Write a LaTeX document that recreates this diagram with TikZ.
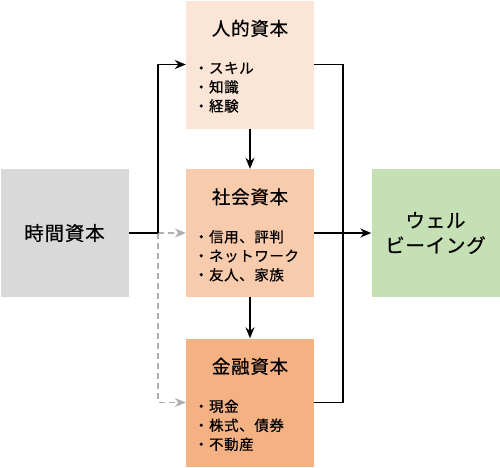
\documentclass[tikz,border=0pt]{standalone}
\usepackage{fontspec}
\newfontfamily\jpfont[LetterSpace=4, FakeBold=0.6]{Noto Sans CJK JP}
\usepackage{tikz}
\usetikzlibrary{arrows.meta, positioning}

\definecolor{timegray}{HTML}{D9D9D9}
\definecolor{humanfill}{HTML}{FBE5D6}
\definecolor{socialfill}{HTML}{F8CBAD}
\definecolor{financefill}{HTML}{F4B183}
\definecolor{wellgreen}{HTML}{C5E0B4}
\definecolor{dashgray}{HTML}{AFAFAF}

\tikzset{
  capbox/.style={rectangle, minimum width=128pt, minimum height=128pt, inner sep=0pt},
  captitle/.style={font=\jpfont\fontsize{18.5}{20}\selectfont, inner sep=0pt},
  capitems/.style={font=\jpfont\fontsize{14.5}{19}\selectfont, align=left,
                   anchor=west, inner sep=0pt},
  biglabel/.style={font=\jpfont\fontsize{19.5}{25}\selectfont, align=center, inner sep=0pt},
  flow/.style={-{Stealth[length=11pt,width=9pt]}, line width=1.5pt},
  maybe/.style={-{Stealth[length=11pt,width=9pt]}, line width=1.5pt, dashgray,
                dash pattern=on 6pt off 4pt},
}

\begin{document}
\begin{tikzpicture}[x=1pt, y=-1pt, font=\jpfont]
  \useasboundingbox (0,0) rectangle (500,467);

  % Capital boxes
  \node[capbox, fill=timegray]    (time)    at (64.5,233)  {};
  \node[capbox, fill=humanfill]   (human)   at (250,64.5)  {};
  \node[capbox, fill=socialfill]  (social)  at (250,233)   {};
  \node[capbox, fill=financefill] (finance) at (250,402.5) {};
  \node[capbox, fill=wellgreen]   (well)    at (435.5,233) {};

  % Titles
  \node[captitle] (humantitle)   at ([yshift=-28pt]human.north)   {人的資本};
  \node[captitle] (socialtitle)  at ([yshift=-28pt]social.north)  {社会資本};
  \node[captitle] (financetitle) at ([yshift=-28pt]finance.north) {金融資本};
  \node[biglabel] (timelabel) at (time) {時間資本};
  \node[biglabel] (welllabel) at (well) {ウェル\\ビーイング};

  % Item lists
  \node[capitems] (humanitems)   at ([xshift=8pt,yshift=-87pt]human.north west)
    {・スキル\\・知識\\・経験};
  \node[capitems] (socialitems)  at ([xshift=8pt,yshift=-87pt]social.north west)
    {・信用、評判\\・ネットワーク\\・友人、家族};
  \node[capitems] (financeitems) at ([xshift=8pt,yshift=-87pt]finance.north west)
    {・現金\\・株式、債券\\・不動産};

  % Connectors
  \coordinate (split) at (158,233);
  \coordinate (merge) at (343,402.5);
  \draw[maybe] (split) -- (social.west);
  \draw[maybe] (split) |- (finance.west);
  \draw[line width=1.5pt] (time.east) -- (split);
  \draw[flow] (split) |- (human.west);
  \draw[flow] (human.south) -- (social.north);
  \draw[flow] (social.south) -- (finance.north);
  \draw[line width=1.5pt] (human.east) -| (merge) -- (finance.east);
  \draw[flow] (social.east) -- (well.west);
\end{tikzpicture}
\end{document}
